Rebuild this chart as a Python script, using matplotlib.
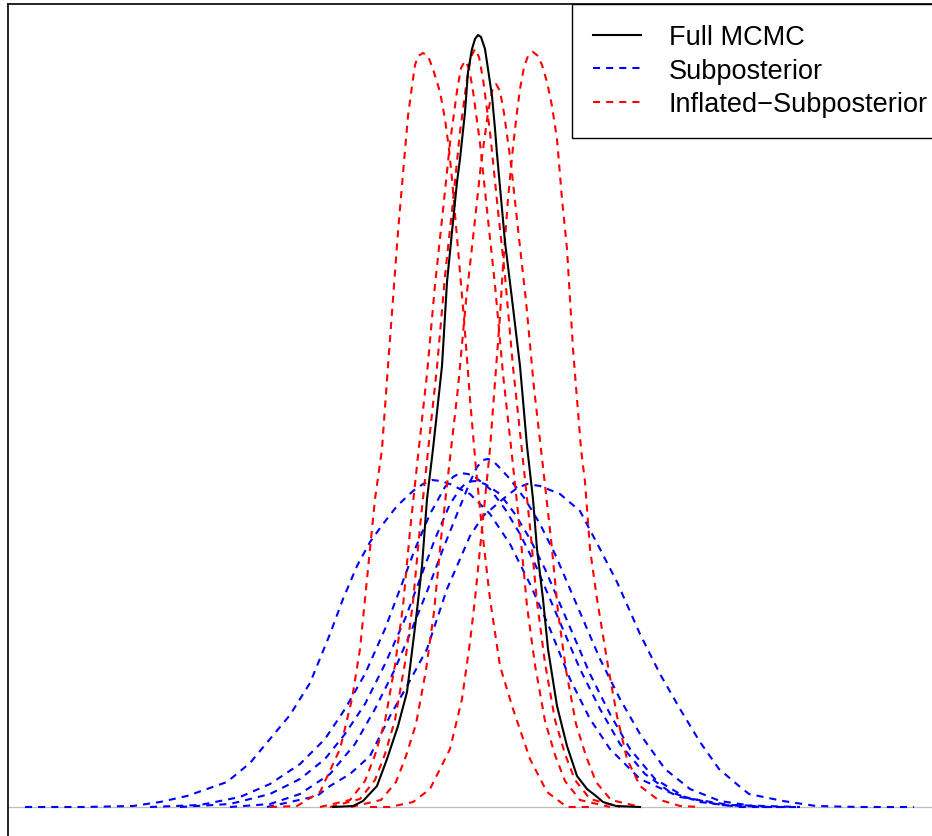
import matplotlib
matplotlib.use("Agg")
import matplotlib.pyplot as plt
from matplotlib.lines import Line2D

plt.rcParams['font.family'] = ['Liberation Sans', 'DejaVu Sans']

# full-data posterior density
full_x = [-1.47, -1.27, -1.17, -1.03, -0.93, -0.82, -0.73, -0.64, -0.58, -0.53,
          -0.47, -0.38, -0.33, -0.28, -0.23, -0.20, -0.15, -0.12, -0.08, -0.05,
          -0.02, 0.01, 0.05, 0.08, 0.12, 0.15, 0.17, 0.25, 0.32, 0.40,
          0.47, 0.53, 0.57, 0.63, 0.68, 0.77, 0.87, 0.97, 1.07, 1.16,
          1.23, 1.36, 1.60]
full_y = [0.000, 0.001, 0.006, 0.021, 0.048, 0.081, 0.115, 0.188, 0.241, 0.308,
          0.358, 0.441, 0.525, 0.575, 0.625, 0.648, 0.695, 0.735, 0.758, 0.768,
          0.772, 0.770, 0.758, 0.738, 0.711, 0.678, 0.653, 0.565, 0.508, 0.441,
          0.361, 0.308, 0.258, 0.208, 0.158, 0.101, 0.061, 0.031, 0.018, 0.011,
          0.005, 0.001, 0.000]

# subposterior densities
sub_a_x = [-2.50, -2.10, -1.80, -1.50, -1.25, -1.05, -0.85, -0.68, -0.52, -0.37, -0.23, -0.10, -0.03, 0.03,
           0.08, 0.13, 0.18, 0.30, 0.45, 0.60, 0.75, 0.90, 1.05, 1.20, 1.40, 1.60, 1.85, 2.10, 2.40, 2.80, 3.20]
sub_a_y = [0.000, 0.003, 0.013, 0.033, 0.063, 0.098, 0.138, 0.178, 0.218, 0.258, 0.293, 0.325, 0.340, 0.347,
           0.348, 0.346, 0.341, 0.328, 0.308, 0.283, 0.253, 0.218, 0.183, 0.148, 0.108, 0.073, 0.038, 0.018, 0.006,
           0.000, 0.000]
sub_b_x = [-3.30, -2.80, -2.40, -2.10, -1.80, -1.55, -1.35, -1.15, -0.95, -0.80, -0.65, -0.50, -0.35, -0.27,
           -0.20, -0.12, -0.05, 0.10, 0.25, 0.40, 0.55, 0.70, 0.85, 1.00, 1.20, 1.40, 1.65, 1.90, 2.20, 2.60, 3.10]
sub_b_y = [0.000, 0.002, 0.010, 0.023, 0.043, 0.068, 0.098, 0.133, 0.178, 0.218, 0.258, 0.293, 0.320, 0.330,
           0.334, 0.333, 0.330, 0.318, 0.298, 0.273, 0.243, 0.208, 0.173, 0.138, 0.098, 0.063, 0.033, 0.015, 0.005,
           0.000, 0.000]
sub_c_x = [-4.55, -3.97, -3.47, -3.20, -2.93, -2.53, -2.30, -2.10, -1.90, -1.70, -1.50, -1.37, -1.23, -1.10,
           -0.97, -0.83, -0.67, -0.57, -0.48, -0.39, -0.30, -0.10, 0.10, 0.30, 0.50, 0.70, 0.90, 1.10, 1.30, 1.60,
           2.00, 2.50, 3.20]
sub_c_y = [0.000, 0.000, 0.001, 0.005, 0.011, 0.025, 0.044, 0.068, 0.092, 0.124, 0.173, 0.208, 0.241, 0.265,
           0.283, 0.301, 0.316, 0.323, 0.327, 0.326, 0.323, 0.313, 0.293, 0.263, 0.223, 0.178, 0.128, 0.088, 0.058,
           0.028, 0.010, 0.002, 0.000]
sub_d_x = [-3.00, -2.50, -2.10, -1.80, -1.55, -1.35, -1.15, -0.95, -0.75, -0.60, -0.45, -0.30, -0.20, -0.13,
           -0.05, 0.05, 0.20, 0.35, 0.50, 0.65, 0.80, 0.95, 1.10, 1.30, 1.50, 1.75, 2.05, 2.40, 2.90]
sub_d_y = [0.000, 0.003, 0.013, 0.028, 0.048, 0.073, 0.103, 0.143, 0.188, 0.228, 0.268, 0.303, 0.318, 0.325,
           0.326, 0.323, 0.313, 0.293, 0.268, 0.238, 0.203, 0.168, 0.133, 0.093, 0.058, 0.028, 0.010, 0.002, 0.000]
sub_e_x = [-2.13, -1.90, -1.63, -1.50, -1.30, -1.10, -0.90, -0.73, -0.53, -0.33, -0.23, -0.10, 0.03, 0.23,
           0.37, 0.47, 0.60, 0.80, 1.00, 1.20, 1.37, 1.60, 1.80, 2.00, 2.20, 2.39, 2.59, 2.69, 3.03, 3.36,
           3.80, 4.34]
sub_e_y = [0.000, 0.005, 0.011, 0.021, 0.033, 0.051, 0.091, 0.121, 0.158, 0.218, 0.241, 0.271, 0.291, 0.308,
           0.319, 0.323, 0.321, 0.313, 0.296, 0.258, 0.225, 0.173, 0.133, 0.098, 0.065, 0.038, 0.021, 0.013,
           0.006, 0.001, 0.000, 0.000]

# inflated subposterior densities
inf_a_x = [-2.10, -1.83, -1.60, -1.40, -1.28, -1.20, -1.15, -1.10, -1.05, -0.98, -0.92, -0.87, -0.82, -0.76,
           -0.72, -0.68, -0.65, -0.62, -0.57, -0.52, -0.47, -0.40, -0.35, -0.31, -0.28, -0.22, -0.16, -0.10,
           -0.04, 0.02, 0.10, 0.20, 0.33, 0.50, 0.67, 0.87, 1.10]
inf_a_y = [0.000, 0.001, 0.015, 0.058, 0.108, 0.158, 0.208, 0.258, 0.308, 0.358, 0.441, 0.508, 0.575, 0.645,
           0.691, 0.721, 0.742, 0.751, 0.754, 0.751, 0.738, 0.715, 0.688, 0.658, 0.628, 0.558, 0.488, 0.408,
           0.338, 0.278, 0.208, 0.141, 0.098, 0.048, 0.015, 0.000, 0.000]
inf_b_x = [-1.60, -1.30, -1.15, -1.05, -0.95, -0.85, -0.77, -0.70, -0.62, -0.53, -0.45, -0.37, -0.30, -0.23,
           -0.19, -0.15, -0.11, -0.07, 0.00, 0.07, 0.15, 0.23, 0.32, 0.40, 0.47, 0.55, 0.65, 0.75, 0.85, 1.00, 1.30]
inf_b_y = [0.000, 0.007, 0.026, 0.052, 0.086, 0.142, 0.201, 0.276, 0.351, 0.433, 0.522, 0.597, 0.664, 0.716,
           0.739, 0.746, 0.739, 0.716, 0.664, 0.597, 0.522, 0.433, 0.351, 0.276, 0.201, 0.142, 0.086, 0.052, 0.026,
           0.007, 0.000]
inf_c_x = [-1.50, -1.20, -1.05, -0.95, -0.85, -0.75, -0.67, -0.60, -0.52, -0.43, -0.35, -0.27, -0.20, -0.13,
           -0.09, -0.05, -0.01, 0.03, 0.10, 0.17, 0.25, 0.33, 0.42, 0.50, 0.57, 0.65, 0.75, 0.85, 0.95, 1.10, 1.40]
inf_c_y = [0.000, 0.008, 0.027, 0.053, 0.087, 0.144, 0.205, 0.280, 0.356, 0.440, 0.531, 0.606, 0.675, 0.728,
           0.750, 0.758, 0.750, 0.728, 0.675, 0.606, 0.531, 0.440, 0.356, 0.280, 0.205, 0.144, 0.087, 0.053, 0.027,
           0.008, 0.000]
inf_d_x = [-1.29, -0.99, -0.84, -0.74, -0.64, -0.54, -0.46, -0.39, -0.31, -0.22, -0.14, -0.06, 0.01, 0.08,
           0.12, 0.16, 0.20, 0.24, 0.31, 0.38, 0.46, 0.54, 0.63, 0.71, 0.78, 0.86, 0.96, 1.06, 1.16, 1.31, 1.61]
inf_d_y = [0.000, 0.007, 0.025, 0.051, 0.083, 0.137, 0.195, 0.268, 0.340, 0.419, 0.506, 0.578, 0.643, 0.694,
           0.716, 0.723, 0.716, 0.694, 0.643, 0.578, 0.506, 0.419, 0.340, 0.268, 0.195, 0.137, 0.083, 0.051, 0.025,
           0.007, 0.000]
inf_e_x = [-1.10, -0.90, -0.67, -0.50, -0.30, -0.18, -0.10, -0.05, 0.00, 0.05, 0.10, 0.15, 0.20, 0.23,
           0.28, 0.33, 0.37, 0.40, 0.44, 0.48, 0.53, 0.58, 0.62, 0.67, 0.72, 0.77, 0.82, 0.87, 0.90, 0.93, 0.97,
           1.01, 1.05, 1.10, 1.17, 1.28, 1.37, 1.47, 1.60, 1.77, 2.00, 2.20]
inf_e_y = [0.000, 0.000, 0.005, 0.018, 0.058, 0.108, 0.165, 0.208, 0.258, 0.308, 0.358, 0.425, 0.491, 0.541,
           0.608, 0.660, 0.695, 0.718, 0.740, 0.751, 0.755, 0.751, 0.742, 0.725, 0.701, 0.668, 0.608, 0.558,
           0.508, 0.458, 0.408, 0.358, 0.325, 0.258, 0.208, 0.141, 0.091, 0.048, 0.021, 0.008, 0.001, 0.000]

subs = [(sub_a_x, sub_a_y), (sub_b_x, sub_b_y), (sub_c_x, sub_c_y), (sub_d_x, sub_d_y), (sub_e_x, sub_e_y)]
infs = [(inf_a_x, inf_a_y), (inf_b_x, inf_b_y), (inf_c_x, inf_c_y), (inf_d_x, inf_d_y), (inf_e_x, inf_e_y)]
labels = ["Full MCMC", "Subposterior", "Inflated\u2212Subposterior"]

fig = plt.figure(figsize=(9.32, 8.37), dpi=100)
# plot region is cut by the right and bottom edges of the image
ax = fig.add_axes([8 / 932, -2 / 837, 940 / 932, 834 / 837])

dash = (3.4, 2.9)
lw = 1.5
ax.axhline(0, color="#BEBEBE", lw=0.9, zorder=1)
ax.plot(full_x, full_y, color="black", lw=lw, zorder=3)
for x, y in subs:
    ax.plot(x, y, color="blue", lw=lw, dashes=dash, zorder=2)
for x, y in infs:
    ax.plot(x, y, color="red", lw=lw, dashes=dash, zorder=2)

ax.set_xlim(-4.72, 4.68)
ax.set_ylim(-0.031, 0.803)
ax.set_xticks([])
ax.set_yticks([])
for s in ax.spines.values():
    s.set_linewidth(1.2)

handles = [Line2D([], [], color="black", lw=lw),
           Line2D([], [], color="blue", lw=lw, dashes=dash),
           Line2D([], [], color="red", lw=lw, dashes=dash)]
leg = ax.legend(handles, labels, loc="upper right", bbox_to_anchor=(1, 1), borderaxespad=0,
                fontsize=19.5, fancybox=False, framealpha=1, edgecolor="black",
                handlelength=1.8, handletextpad=1.0, borderpad=0.75, labelspacing=0.28)
leg.get_frame().set_linewidth(1.0)

fig.savefig("out.png", dpi=100)
